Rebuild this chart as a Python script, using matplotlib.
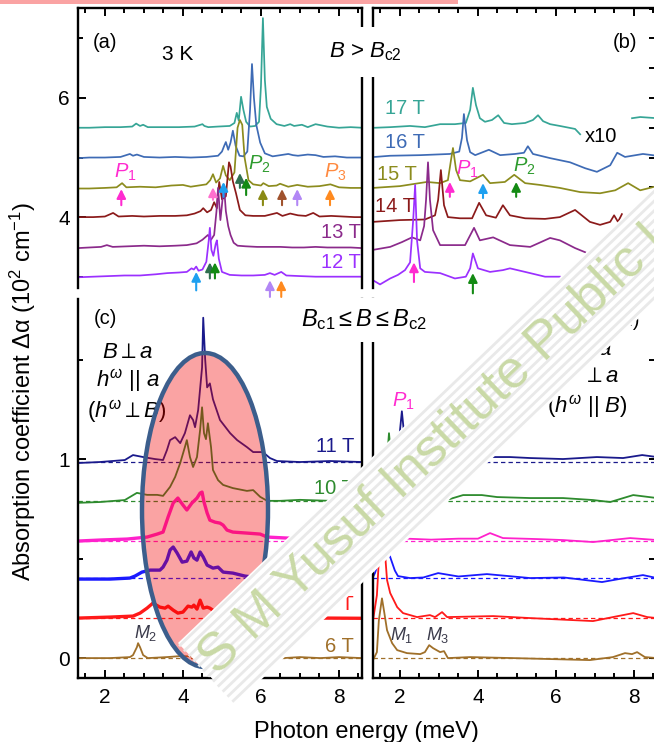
import numpy as np
import matplotlib
matplotlib.use("Agg")
import matplotlib.pyplot as plt
from matplotlib.patches import Ellipse, Polygon, Rectangle
from matplotlib.lines import Line2D
from matplotlib.ticker import MultipleLocator

plt.rcParams['font.family'] = ['Liberation Sans', 'DejaVu Sans']
plt.rcParams['mathtext.fontset'] = 'custom'
plt.rcParams['mathtext.rm'] = 'Liberation Sans'
plt.rcParams['mathtext.it'] = 'Liberation Sans:italic'
plt.rcParams['mathtext.fallback'] = 'stixsans'

nan = np.nan

# ---- panel (a): B > Bc2, 12-17 T (energy in meV, alpha in 10^2 cm^-1, offset)
a17_x = [1.31, 1.6, 2.0, 2.4, 2.7, 2.8, 2.9, 2.98, 3.1, 3.5, 3.9, 4.3, 4.5, 4.55, 4.65, 4.9, 5.2, 5.32, 5.38,
         5.43, 5.49, 5.55, 5.62, 5.72, 5.85, 5.95, 6.0, 6.05, 6.1, 6.15, 6.25, 6.4, 6.6, 6.75, 6.85, 7.05,
         7.2, 7.4, 7.7, 8.0, 8.3, 8.59]
a17_y = [5.50, 5.50, 5.51, 5.51, 5.52, 5.57, 5.53, 5.55, 5.51, 5.51, 5.51, 5.52, 5.56, 5.53, 5.51, 5.52, 5.53,
         5.58, 5.75, 5.62, 6.02, 5.80, 5.60, 5.52, 5.53, 5.60, 6.2, 7.34, 6.3, 5.85, 5.65, 5.56, 5.53, 5.56,
         5.53, 5.55, 5.51, 5.56, 5.52, 5.50, 5.51, 5.50]
a16_x = [1.31, 1.6, 2.0, 2.4, 2.64, 2.72, 2.82, 3.0, 3.4, 3.8, 4.2, 4.6, 4.9, 5.0, 5.06, 5.10, 5.16, 5.22, 5.28,
         5.35, 5.45, 5.55, 5.65, 5.72, 5.77, 5.82, 5.88, 5.98, 6.1, 6.3, 6.5, 6.7, 6.82, 6.95, 7.2, 7.4, 7.6,
         7.9, 8.2, 8.59]
a16_y = [4.99, 5.0, 5.0, 5.01, 5.06, 5.03, 5.05, 5.01, 5.0, 5.01, 5.0, 5.01, 5.03, 5.10, 5.2, 5.26, 5.13, 5.25,
         5.45, 5.2, 5.03, 5.02, 5.1, 5.8, 6.57, 6.0, 5.55, 5.25, 5.07, 5.02, 5.04, 5.06, 5.04, 5.03, 5.05,
         5.04, 5.01, 5.02, 5.0, 5.0]
a15_x = [1.31, 1.6, 2.0, 2.3, 2.44, 2.55, 2.9, 3.3, 3.7, 4.0, 4.2, 4.4, 4.6, 4.70, 4.77, 4.85, 4.95, 5.03, 5.10,
         5.2, 5.32, 5.40, 5.46, 5.52, 5.58, 5.68, 5.8, 6.0, 6.06, 6.2, 6.4, 6.49, 6.7, 6.93, 7.2, 7.5, 7.78,
         8.0, 8.3, 8.59]
a15_y = [4.48, 4.48, 4.49, 4.50, 4.57, 4.50, 4.51, 4.50, 4.53, 4.54, 4.51, 4.53, 4.55, 4.62, 4.72, 4.58, 4.65,
         4.86, 4.70, 4.62, 4.75, 5.5, 5.63, 5.55, 5.0, 4.62, 4.55, 4.53, 4.57, 4.52, 4.53, 4.56, 4.51, 4.54,
         4.51, 4.52, 4.55, 4.50, 4.49, 4.49]
a14_x = [1.31, 1.7, 2.0, 2.21, 2.35, 2.7, 3.0, 3.4, 3.8, 4.1, 4.3, 4.45, 4.52, 4.62, 4.72, 4.80, 4.87, 4.93,
         5.0, 5.1, 5.18, 5.22, 5.28, 5.36, 5.46, 5.6, 5.8, 6.1, 6.41, 6.55, 6.75, 6.95, 7.15, 7.34, 7.5, 7.8,
         8.1, 8.4, 8.59]
a14_y = [4.0, 4.0, 4.01, 4.07, 4.01, 4.02, 4.01, 4.02, 4.02, 4.03, 4.06, 4.10, 4.15, 4.08, 4.12, 4.25, 4.15,
         4.59, 4.30, 4.35, 4.92, 4.85, 4.6, 4.4, 4.12, 4.03, 4.02, 4.02, 4.07, 4.02, 4.06, 4.03, 4.02, 4.07,
         4.01, 4.02, 4.01, 4.0, 4.0]
a13_x = [1.31, 1.6, 1.9, 2.05, 2.2, 2.6, 3.0, 3.4, 3.8, 4.1, 4.35, 4.5, 4.64, 4.72, 4.80, 4.86, 4.90, 4.96,
         5.00, 5.05, 5.10, 5.16, 5.22, 5.30, 5.4, 5.6, 5.9, 6.2, 6.5, 6.8, 7.1, 7.4, 7.7, 8.0, 8.3, 8.59]
a13_y = [3.48, 3.49, 3.50, 3.53, 3.50, 3.51, 3.52, 3.51, 3.52, 3.53, 3.56, 3.62, 3.70, 3.62, 3.70, 4.1, 4.49,
         3.95, 4.2, 4.54, 4.1, 3.85, 3.70, 3.57, 3.52, 3.51, 3.50, 3.50, 3.50, 3.49, 3.49, 3.50, 3.49, 3.49,
         3.49, 3.48]
a12_x = [1.31, 1.7, 2.1, 2.5, 2.9, 3.3, 3.6, 3.9, 4.1, 4.22, 4.28, 4.34, 4.40, 4.50, 4.60, 4.66, 4.69, 4.73,
         4.78, 4.84, 4.87, 4.92, 5.0, 5.2, 5.5, 5.8, 6.1, 6.23, 6.35, 6.52, 6.65, 7.0, 7.4, 7.8, 8.2, 8.59]
a12_y = [2.99, 3.0, 3.01, 3.02, 3.02, 3.04, 3.06, 3.07, 3.08, 3.14, 3.12, 3.17, 3.10, 3.12, 3.25, 3.6, 3.82,
         3.45, 3.35, 3.55, 3.61, 3.30, 3.08, 3.03, 3.02, 3.02, 3.03, 3.06, 3.03, 3.08, 3.02, 3.01, 3.0, 3.0,
         3.0, 3.0]

# ---- panel (b): same fields, x10
b17_x = [1.36, 1.75, 2.26, 2.64, 3.03, 3.41, 3.69, 3.80, 3.87, 3.95, 4.05, 4.18, 4.36, 4.52, 4.67, 4.87, 5.21,
         5.41, 5.54, 5.67, 5.85, 6.10, 6.49, 6.62, nan, 7.95, 8.16, 8.59]
b17_y = [5.50, 5.51, 5.53, 5.51, 5.56, 5.56, 5.58, 5.80, 6.17, 5.88, 5.66, 5.60, 5.63, 5.71, 5.58, 5.56, 5.58,
         5.63, 5.71, 5.61, 5.56, 5.53, 5.48, 5.39, nan, 5.66, 5.68, 5.66]
b16_x = [1.36, 1.75, 2.52, 3.28, 3.52, 3.59, 3.64, 3.72, 3.80, 3.93, 4.28, 4.57, 4.95, 5.18, 5.28, 5.41, 5.85,
         6.36, 6.75, 7.05, 7.39, 7.57, 7.77, 8.23, 8.59]
b16_y = [5.01, 5.03, 5.04, 5.06, 5.10, 5.33, 5.73, 5.29, 5.09, 5.04, 5.13, 5.04, 5.06, 5.08, 5.19, 5.06, 4.99,
         4.92, 4.82, 4.76, 4.87, 5.08, 5.01, 5.06, 5.03]
b15_x = [1.31, 2.0, 2.69, 3.03, 3.23, 3.31, 3.36, 3.44, 3.54, 3.80, 4.13, 4.31, 4.69, 4.93, 5.21, 5.59, 6.10,
         6.62, 7.13, 7.52, 7.85, 8.16, 8.59]
b15_y = [4.49, 4.52, 4.59, 4.57, 4.62, 4.96, 5.16, 4.79, 4.62, 4.60, 4.71, 4.57, 4.59, 4.71, 4.57, 4.54, 4.49,
         4.42, 4.40, 4.45, 4.57, 4.45, 4.52]
b14_x = [1.31, 2.0, 2.64, 2.90, 2.98, 3.05, 3.13, 3.23, 3.54, 3.85, 4.03, 4.21, 4.46, 4.64, 4.82, 5.21, 5.72,
         6.10, 6.49, 6.87, 7.13, 7.39, 7.49, 7.59, 7.69]
b14_y = [3.92, 3.95, 3.96, 4.03, 4.29, 4.79, 4.20, 4.00, 3.98, 3.98, 4.24, 4.03, 3.99, 4.20, 4.03, 3.98, 3.97,
         4.00, 4.12, 3.92, 3.87, 3.92, 4.03, 3.92, 4.05]
b13_x = [1.31, 1.75, 2.05, 2.31, 2.52, 2.62, 2.67, 2.72, 2.77, 2.85, 3.03, 3.67, 3.90, 4.05, 4.39, 4.82, 5.34,
         5.85, 6.10, 6.49, 6.75]
b13_y = [3.45, 3.50, 3.58, 3.66, 3.61, 3.85, 4.29, 4.92, 4.29, 3.78, 3.53, 3.53, 3.82, 3.61, 3.66, 3.53, 3.50,
         3.65, 3.61, 3.48, 3.41]
b12_x = [1.31, 1.49, 1.75, 1.95, 2.13, 2.26, 2.34, 2.39, 2.44, 2.52, 2.64, 3.03, 3.41, 3.69, 3.80, 3.87, 4.00,
         4.31, 4.64, 4.82, 5.21, 5.72, 6.10]
b12_y = [2.94, 2.87, 2.97, 3.03, 3.11, 3.24, 3.95, 4.54, 3.60, 3.14, 3.08, 3.06, 2.97, 3.00, 3.14, 3.39, 3.14,
         3.08, 3.11, 3.14, 3.08, 3.00, 3.00]

# arrows in (a) and (b): x position, tip and tail height
a15_arrow_x = [2.42, 4.77, 5.04, 5.46, 5.62, 6.05, 6.54, 6.93, 7.77]
a15_arrow_tip = [4.47, 4.50, 4.59, 4.74, 4.66, 4.47, 4.47, 4.47, 4.47]
a15_arrow_tail = [4.20, 4.29, 4.34, 4.49, 4.37, 4.20, 4.20, 4.20, 4.20]
a12_arrow_x = [4.34, 4.69, 4.82, 6.23, 6.52]
a12_arrow_tip = [3.08, 3.24, 3.24, 2.94, 2.94]
a12_arrow_tail = [2.77, 2.97, 2.97, 2.66, 2.66]
b15_arrow_x = [3.28, 4.13, 4.98]
b15_arrow_tip = [4.59, 4.57, 4.59]
b15_arrow_tail = [4.34, 4.32, 4.34]
b12_arrow_x = [2.36, 3.87]
b12_arrow_tip = [3.24, 3.06]
b12_arrow_tail = [2.91, 2.72]

# ---- panel (c): Bc1 <= B <= Bc2, B perp a
c11_x = [1.31, 1.87, 2.51, 2.72, 2.98, 3.28, 3.49, 3.59, 3.67, 3.80, 3.93, 4.05, 4.18, 4.26, 4.31, 4.39, 4.49,
         4.52, 4.57, 4.62, 4.69, 4.77, 4.95, 5.21, 5.39, 5.64, 5.80, 6.05, 6.23, 6.41, 7.0, 7.77, 8.59]
c11_y = [0.98, 0.985, 0.995, 1.02, 1.01, 1.0, 0.995, 1.045, 1.095, 1.11, 1.08, 1.13, 1.22, 1.196, 1.16, 1.246,
         1.46, 1.71, 1.50, 1.36, 1.38, 1.30, 1.196, 1.13, 1.095, 1.06, 1.035, 1.035, 1.005, 0.99, 0.985, 0.99,
         0.985]
c10_x = [1.31, 1.87, 2.51, 2.82, 3.08, 3.34, 3.49, 3.67, 3.80, 3.93, 4.05, 4.10, 4.18, 4.26, 4.36, 4.44, 4.49,
         4.54, 4.59, 4.64, 4.72, 4.77, 4.90, 5.03, 5.28, 5.64, 5.80, 5.98, 6.16, 6.49, 7.0, 7.77, 8.59]
c10_y = [0.78, 0.784, 0.794, 0.83, 0.82, 0.82, 0.815, 0.86, 0.91, 0.98, 1.06, 1.095, 1.01, 0.96, 1.01, 1.146,
         1.26, 1.13, 1.10, 1.18, 1.06, 0.945, 0.894, 0.87, 0.854, 0.84, 0.844, 0.81, 0.79, 0.79, 0.795, 0.79,
         0.79]
c9_x = [1.31, 1.87, 2.57, 3.08, 3.34, 3.49, 3.62, 3.75, 3.87, 4.0, 4.10, 4.23, 4.36, 4.44, 4.49, 4.54, 4.62,
        4.69, 4.82, 4.95, 5.03, 5.13, 5.28, 5.64, 5.98, 6.16, 6.67, 7.0]
c9_y = [0.588, 0.593, 0.598, 0.608, 0.623, 0.633, 0.709, 0.779, 0.804, 0.769, 0.744, 0.779, 0.804, 0.829,
        0.834, 0.784, 0.729, 0.693, 0.683, 0.678, 0.668, 0.643, 0.633, 0.628, 0.623, 0.608, 0.603, 0.60]
c8_x = [1.31, 2.13, 2.64, 2.77, 2.95, 3.16, 3.41, 3.49, 3.59, 3.67, 3.75, 3.85, 3.98, 4.10, 4.21, 4.28, 4.36,
        4.44, 4.52, 4.62, 4.77, 4.90, 5.03, 5.28, 5.59, 5.9]
c8_y = [0.397, 0.397, 0.402, 0.412, 0.432, 0.442, 0.442, 0.457, 0.492, 0.543, 0.558, 0.528, 0.482, 0.487,
        0.533, 0.503, 0.492, 0.533, 0.508, 0.467, 0.452, 0.457, 0.432, 0.427, 0.412, 0.405]
c7_x = [1.31, 2.13, 2.72, 2.90, 3.08, 3.23, 3.41, 3.54, 3.62, 3.75, 3.87, 4.0, 4.13, 4.23, 4.28, 4.36, 4.44,
        4.52, 4.62, 4.69, 5.0, 6.0, 7.0, 7.7, 8.59]
c7_y = [0.201, 0.206, 0.211, 0.226, 0.251, 0.276, 0.256, 0.251, 0.261, 0.241, 0.226, 0.231, 0.261, 0.256,
        0.266, 0.246, 0.291, 0.251, 0.256, 0.251, 0.21, 0.205, 0.20, 0.201, 0.20]
c6_x = [1.31, 2.13, 2.64, 2.72, 2.82, 2.85, 2.90, 2.98, 3.10, 3.59, 3.93, 5.0, 6.57, 7.0, 7.52, 8.0, 8.59]
c6_y = [0.0, 0.0, 0.005, 0.015, 0.055, 0.075, 0.055, 0.015, 0.0, 0.005, 0.01, 0.005, 0.0, 0.005, 0.0, 0.005, 0.0]

# ---- panel (d): B || a
d11_x = [1.31, 1.7, 1.9, 1.98, 2.05, 2.12, 2.3, 2.7, 3.5, 4.39, 4.82, 5.34, 6.18, 7.05, 7.72, 8.21, 8.59]
d11_y = [0.985, 0.99, 1.0, 1.1, 1.24, 1.1, 1.03, 1.01, 1.01, 1.01, 1.01, 1.005, 1.0, 1.01, 1.005, 1.02, 1.01]
d10_x = [1.31, 1.55, 1.65, 1.72, 1.80, 1.95, 2.3, 2.8, 3.28, 3.62, 4.10, 4.49, 5.34, 6.18, 6.95, 7.39, 7.98, 8.59]
d10_y = [0.79, 0.80, 0.95, 1.13, 0.95, 0.85, 0.81, 0.80, 0.799, 0.819, 0.819, 0.809, 0.804, 0.804, 0.794, 0.784,
         0.819, 0.804]
d9_x = [1.31, 1.5, 1.62, 1.72, 1.9, 2.18, 2.8, 3.5, 4.0, 4.31, 4.64, 5.5, 6.18, 6.95, 7.90, 8.59]
d9_y = [0.59, 0.65, 0.9, 0.75, 0.64, 0.60, 0.595, 0.60, 0.60, 0.628, 0.603, 0.598, 0.593, 0.583, 0.603, 0.593]
d8_x = [1.31, 1.36, 1.41, 1.49, 1.62, 1.75, 1.87, 1.95, 2.26, 2.6, 2.98, 3.5, 4.23, 5.34, 6.2, 7.18, 7.7, 8.23, 8.59]
d8_y = [0.407, 0.427, 0.457, 0.6, 0.85, 0.508, 0.44, 0.412, 0.402, 0.405, 0.427, 0.41, 0.422, 0.402, 0.405,
        0.382, 0.40, 0.417, 0.402]
d7_x = [1.31, 1.41, 1.49, 1.54, 1.59, 1.67, 1.75, 1.93, 2.08, 2.44, 2.77, 2.90, 3.08, 3.21, 4.39, 5.34, 6.95,
        7.46, 7.98, 8.34, 8.59]
d7_y = [0.19, 0.316, 0.6, 0.75, 0.6, 0.392, 0.327, 0.256, 0.226, 0.206, 0.216, 0.206, 0.231, 0.206, 0.211, 0.201,
        0.186, 0.206, 0.226, 0.206, 0.201]
d6_x = [1.31, 1.41, 1.46, 1.54, 1.59, 1.67, 1.80, 1.93, 2.18, 2.52, 2.64, 2.75, 2.85, 3.03, 3.13, 3.23, 3.80,
        4.90, 6.87, 7.46, 7.77, 7.95, 8.08, 8.28, 8.59]
d6_y = [-0.01, 0.03, 0.19, 0.30, 0.24, 0.14, 0.075, 0.04, 0.025, 0.02, 0.03, 0.065, 0.05, 0.03, 0.035, 0.0,
        0.005, 0.0, -0.01, 0.005, 0.025, 0.02, 0.03, 0.005, 0.0]

# zero lines of the offset spectra in (c) and (d)
low_baselines = [0.985, 0.79, 0.59, 0.40, 0.201, 0.0]
low_fields = ['11 T', '10 T', '9 T', '8 T', '7 T', '6 T']

W, H = 654, 742
fig = plt.figure(figsize=(W / 100, H / 100), dpi=100)


def fx(px):
    return px / W


def fy(py):
    return 1 - py / H


def txt(px, py, s, **kw):
    kw.setdefault('ha', 'center')
    kw.setdefault('va', 'center')
    kw.setdefault('fontsize', 14.5)
    return fig.text(fx(px), fy(py), s, **kw)


ax_a = fig.add_axes([fx(78), fy(288), 284 / W, 280 / H])
ax_b = fig.add_axes([fx(373), fy(288), 284 / W, 280 / H])
ax_c = fig.add_axes([fx(78), fy(678), 284 / W, 379 / H])
ax_d = fig.add_axes([fx(373), fy(678), 284 / W, 379 / H])

for ax in [ax_a, ax_b, ax_c, ax_d]:
    ax.set_xlim(1.31, 8.59)
    ax.xaxis.set_major_locator(MultipleLocator(2))
    ax.xaxis.set_minor_locator(MultipleLocator(0.5))
    for s in ax.spines.values():
        s.set_linewidth(1.7)
    ax.tick_params(which='both', direction='in', width=1.4, labelsize=15)
    ax.tick_params(which='major', length=6)
    ax.tick_params(which='minor', length=3.5)
    ax.patch.set_alpha(0)

for ax in [ax_a, ax_b]:
    ax.set_ylim(2.81, 7.51)
    ax.spines['bottom'].set_visible(False)
    ax.tick_params(axis='x', which='both', top=True, bottom=False, labelbottom=False)
for ax in [ax_c, ax_d]:
    ax.set_ylim(-0.10, 1.804)
    ax.spines['top'].set_visible(False)
    ax.tick_params(axis='x', which='both', top=False, bottom=True, pad=7)

ax_a.yaxis.set_major_locator(MultipleLocator(2))
ax_a.yaxis.set_minor_locator(MultipleLocator(1))
ax_a.tick_params(axis='y', which='both', left=True, right=False, pad=6)
ax_c.yaxis.set_major_locator(MultipleLocator(1))
ax_c.yaxis.set_minor_locator(MultipleLocator(0.5))
ax_c.tick_params(axis='y', which='both', left=True, right=False, pad=6)
for ax in [ax_b, ax_d]:
    ax.yaxis.set_major_locator(MultipleLocator(0.5))
    ax.tick_params(axis='y', which='both', left=False, right=True, labelleft=False, labelright=False)

# top panels
top_cols = ['#36A596', '#3E6BB5', '#8C8C1E', '#8B1A1A', '#8B2A8B', '#9B30FF']
for (xs, ys), c in zip([(a17_x, a17_y), (a16_x, a16_y), (a15_x, a15_y), (a14_x, a14_y), (a13_x, a13_y),
                        (a12_x, a12_y)], top_cols):
    ax_a.plot(xs, ys, color=c, lw=1.25)
for (xs, ys), c in zip([(b17_x, b17_y), (b16_x, b16_y), (b15_x, b15_y), (b14_x, b14_y), (b13_x, b13_y),
                        (b12_x, b12_y)], top_cols):
    ax_b.plot(xs, ys, color=c, lw=1.25)


def arrows(ax, xs, tips, tails, cols):
    for x, t0, t1, c in zip(xs, tips, tails, cols):
        ax.annotate('', xy=(x, t0), xytext=(x, t1), annotation_clip=False,
                    arrowprops=dict(arrowstyle='-|>,head_length=0.6,head_width=0.3', color=c, lw=1.5,
                                    mutation_scale=9, shrinkA=0, shrinkB=0))


arrows(ax_a, a15_arrow_x, a15_arrow_tip, a15_arrow_tail,
       ['#FF2BD0', '#FF6FCF', '#1EA0F0', '#2F6F4F', '#138A13', '#8A8A14', '#A0522D', '#B287F5', '#FF8A1F'])
arrows(ax_a, a12_arrow_x, a12_arrow_tip, a12_arrow_tail,
       ['#1EA0F0', '#2F6F4F', '#138A13', '#B287F5', '#FF8A1F'])
arrows(ax_b, b15_arrow_x, b15_arrow_tip, b15_arrow_tail, ['#FF2BD0', '#1EA0F0', '#138A13'])
arrows(ax_b, b12_arrow_x, b12_arrow_tip, b12_arrow_tail, ['#FF2BD0', '#138A13'])

# bottom panels
low_cols = ['#1A1A8C', '#2E8B2E', '#FF22CC', '#1A1AFF', '#FF1A1A', '#A0702A']
low_lw = [1.3, 1.3, 2.4, 2.4, 2.4, 1.3]
for (xs, ys), c, lw in zip([(c11_x, c11_y), (c10_x, c10_y), (c9_x, c9_y), (c8_x, c8_y), (c7_x, c7_y),
                            (c6_x, c6_y)], low_cols, low_lw):
    ax_c.plot(xs, ys, color=c, lw=lw)
for (xs, ys), c in zip([(d11_x, d11_y), (d10_x, d10_y), (d9_x, d9_y), (d8_x, d8_y), (d7_x, d7_y),
                        (d6_x, d6_y)], low_cols):
    ax_d.plot(xs, ys, color=c, lw=1.3)
for ax in [ax_c, ax_d]:
    for b, c in zip(low_baselines, low_cols):
        ax.axhline(b, color=c, lw=0.9, ls=(0, (3.5, 2.5)), zorder=1)

# texts
txt(105, 43, '(a)')
txt(178, 55, '3 K', fontsize=15)
txt(365, 52, r'$B$ > $B_{\rm c2}$', fontsize=16, zorder=6,
    bbox=dict(boxstyle='square,pad=0.6', fc='white', ec='none'))
txt(625, 43, '(b)')
txt(385, 108, '17 T', ha='left', color=top_cols[0])
txt(385, 143, '16 T', ha='left', color=top_cols[1])
txt(585, 137, 'x10', ha='left')
txt(377, 175, '15 T', ha='left', color=top_cols[2])
txt(375, 207, '14 T', ha='left', color=top_cols[3])
txt(361, 233, '13 T', ha='right', color=top_cols[4])
txt(361, 262, '12 T', ha='right', color=top_cols[5])
txt(125, 172, r'$P_1$', color='#FF2BD0')
txt(259, 164, r'$P_2$', color='#2E9B2E')
txt(335, 172, r'$P_3$', color='#FF8A40')
txt(467, 169, r'$P_1$', color='#FF2BD0')
txt(524, 166, r'$P_2$', color='#2E9B2E')

txt(105, 318, '(c)')
txt(364, 320, r'$B_{\rm c1} \leq B \leq B_{\rm c2}$', fontsize=17, zorder=6,
    bbox=dict(boxstyle='square,pad=0.4', fc='white', ec='none'))
txt(128, 353, r'$B \perp a$', fontsize=16)
txt(128, 381, r'$h^{\omega}\ ||\ a$', fontsize=16)
txt(127, 412, r'$(h^{\omega} \perp B)$', fontsize=16)
txt(586, 350, r'$B\ ||\ a$', fontsize=16)
txt(588, 377, r'$h^{\omega} \perp a$', fontsize=16)
txt(587, 407, r'$(h^{\omega}\ ||\ B)$', fontsize=16)
txt(628, 320, '(d)')
for f, py, c in zip(low_fields, [447, 488, 527, 566, 605, 647], low_cols):
    txt(354, py, f, ha='right', color=c)
txt(146, 633, r'$M_2$', fontsize=13, color='#3A3A4A')
txt(402, 635, r'$M_1$', fontsize=13, color='#3A3A4A')
txt(438, 635, r'$M_3$', fontsize=13, color='#3A3A4A')
txt(403, 401, r'$P_1$', color='#FF2BD0')

txt(366, 732, 'Photon energy (meV)', fontsize=17)
txt(23, 392, r'Absorption coefficient Δα (10$^2$ cm$^{-1}$)', fontsize=17, rotation=90)

# highlight overlays
pink = (0.95, 0.0, 0.0, 0.36)
fig.add_artist(Rectangle((0, fy(4)), fx(458), 4 / H, transform=fig.transFigure, fc=pink, ec='none', zorder=10))
fig.add_artist(Ellipse((fx(205), fy(510)), 126 / W, 314 / H, transform=fig.transFigure,
                       fc=pink, ec='none', zorder=10))
fig.add_artist(Ellipse((fx(205), fy(510)), 126 / W, 314 / H, transform=fig.transFigure,
                       fc='none', ec='#3C5E8C', lw=3.2, zorder=11))

# diagonal watermark band
ang = np.deg2rad(43.75)
along = np.array([np.cos(ang), -np.sin(ang)])
across = np.array([np.sin(ang), np.cos(ang)])
p0 = np.array([178.0, 643.0])
bw, bl = 84, 900
corners = [p0, p0 + bw * across, p0 + bw * across + bl * along, p0 + bl * along]
fig.add_artist(Polygon([(fx(x), fy(y)) for x, y in corners], closed=True, transform=fig.transFigure,
                       fc='white', ec='none', zorder=20))
for t in np.arange(3, bw, 7):
    s0 = p0 + t * across
    s1 = s0 + bl * along
    fig.add_artist(Line2D([fx(s0[0]), fx(s1[0])], [fy(s0[1]), fy(s1[1])], transform=fig.transFigure,
                          color='#E9E9E9', lw=2.0, zorder=21))
fig.text(fx(207), fy(666), 'S M Yusuf Institute Public Le', rotation=43.75, rotation_mode='anchor',
         ha='left', va='center', fontsize=38, color='#C9D9A6', zorder=22)

fig.savefig('out.png', dpi=100)
